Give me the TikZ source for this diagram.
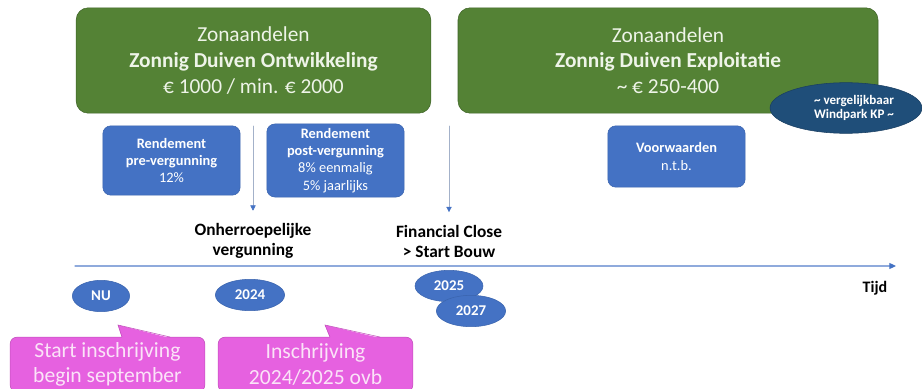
\documentclass[tikz,border=0pt]{standalone}
\usepackage{fontspec}
\setmainfont{Carlito}
\usetikzlibrary{arrows.meta,shapes.geometric}
\definecolor{zongroen}{HTML}{548235}
\definecolor{zonrand}{HTML}{3F6428}
\definecolor{zontekst}{HTML}{EEF4E8}
\definecolor{zonblauw}{HTML}{4472C4}
\definecolor{zonblauwrand}{HTML}{3A64AE}
\definecolor{donkerblauw}{HTML}{1F4E79}
\definecolor{lijnblauw}{HTML}{8FAADC}
\definecolor{pijlgrijs}{HTML}{A3B1C9}
\definecolor{roze}{HTML}{E661E0}
\definecolor{rozerand}{HTML}{C04FBA}
\definecolor{rozetekst}{HTML}{FBE3F8}

\begin{document}
\begin{tikzpicture}[x=0.75pt,y=-0.75pt,line cap=round,
  zonbox/.style={draw=zonrand,fill=zongroen,rounded corners=9pt,text=zontekst,align=center,
    minimum width=#1,minimum height=79pt,font=\fontsize{16}{19.3}\selectfont},
  rendbox/.style={draw=zonblauwrand,fill=zonblauw,rounded corners=6pt,text=white,align=center,
    minimum width=103pt,minimum height=#1,font=\fontsize{10.8}{12.9}\selectfont},
  jaar/.style={ellipse,draw=zonblauwrand,fill=zonblauw,text=white,inner sep=0pt,
    minimum width=#1,minimum height=23.5pt,font=\fontsize{11.2}{12}\selectfont\bfseries},
  mijlpaal/.style={align=center,font=\fontsize{13}{15}\selectfont\bfseries},
  callbox/.style={draw=rozerand,fill=roze,rounded corners=5pt,text=rozetekst,align=center,
    minimum width=146pt,minimum height=41pt,font=\fontsize{16.2}{19}\selectfont},
  pijl/.style={pijlgrijs,-{Triangle[length=4pt,width=4pt,color=zonblauw]}},
  tijdlijn/.style={lijnblauw,thick,-{Triangle[length=5pt,width=4.5pt,color=zonblauw]}}]
\useasboundingbox (0,0) rectangle (922,389);

% aandelen
\node[zonbox=266pt] (ontw) at (253.5,60.5) {Zonaandelen\\\textbf{Zonnig Duiven Ontwikkeling}\\€ 1000 / min. € 2000};
\node[zonbox=315pt] (expl) at (668,60.5) {Zonaandelen\\\textbf{Zonnig Duiven Exploitatie}\\\char`~{} € 250-400};
\node[ellipse,fill=donkerblauw,draw=donkerblauw!80!black,text=white,inner sep=0pt,minimum width=114pt,minimum height=38pt,
  align=center,font=\fontsize{9.8}{10.4}\selectfont\bfseries] (wind) at (846,108) {\hspace*{12pt}\char`~{} vergelijkbaar\\\hspace*{12pt}Windpark KP \char`~};

% rendement
\node[rendbox=52pt] (pre) at (171.5,160.5) {\textbf{Rendement}\\\textbf{pre-vergunning}\\12\%};
\node[rendbox=52pt] (post) at (335.5,160.5) {\textbf{Rendement}\\\textbf{post-vergunning}\\8\% eenmalig\\5\% jaarlijks};
\node[rendbox=46pt] (voorw) at (676.5,156.5) {\textbf{Voorwaarden}\\n.t.b.};

% mijlpalen
\node[mijlpaal] (verg) at (253,241) {Onherroepelijke\\vergunning};
\node[mijlpaal] (close) at (449,241) {Financial Close\\> Start Bouw};
\coordinate (vergtop) at (253,126);
\coordinate (closetop) at (449,126);
\draw[pijl] (vergtop) -- ([yshift=6pt]verg.north);
\draw[pijl] (closetop) -- ([yshift=6pt]close.north);

% tijdlijn
\coordinate (tstart) at (75,266);
\coordinate (tend) at (896,266);
\draw[tijdlijn] (tstart) -- (tend);
\node[font=\fontsize{12}{14}\selectfont\bfseries] (tijd) at (875,288) {Tijd};

\node[jaar=43pt] (nu) at (101,296) {NU};
\node[jaar=52pt] (j2024) at (250,295) {2024};
\node[jaar=51pt] (j2025) at (449,286) {2025};
\node[jaar=52pt] (j2027) at (471,311) {2027};

% inschrijving
\node[callbox] (start) at (107.5,364.5) {Start inschrijving\\begin september};
\node[callbox] (insch) at (315.5,364.5) {Inschrijving\\2024/2025 ovb};
\fill[roze] (118,325) -- (122,338) -- (170,338) -- cycle;
\draw[rozerand] (122,337) -- (118,325) -- (170,337);
\fill[roze] (325,325) -- (330,338) -- (380,338) -- cycle;
\draw[rozerand] (330,337) -- (325,325) -- (380,337);
\end{tikzpicture}
\end{document}
